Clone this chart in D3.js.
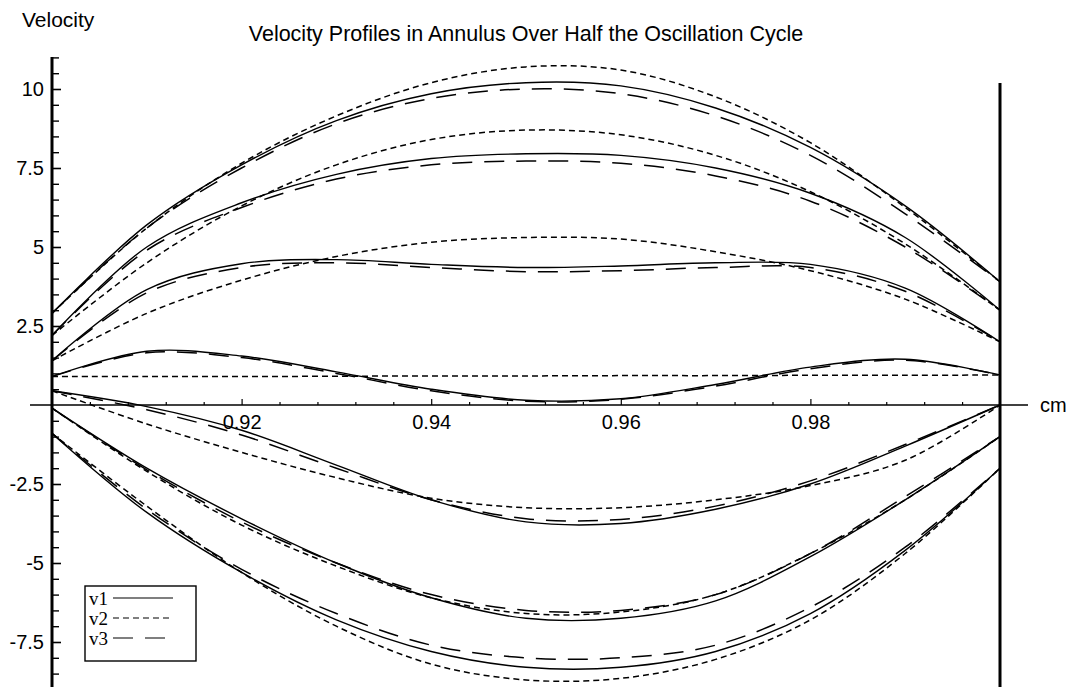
<!DOCTYPE html>
<html>
<head>
<meta charset="utf-8">
<script src="https://cdn.jsdelivr.net/npm/d3@7"></script>
<style>
  body { margin: 0; background: #fff; }
  text { font-family: "Liberation Sans", Arial, Helvetica, sans-serif; fill: #000; }
  .legend text { font-family: "Liberation Serif", "Times New Roman", serif; }
</style>
</head>
<body>
<div id="chart"></div>
<script>
// radio (cm) donde se leyeron los perfiles
const radius = [0.90, 0.91, 0.92, 0.93, 0.94, 0.95, 0.96, 0.97, 0.98, 0.99, 1.00];

// perfil 1 (el más alto)
const p1_v1 = [2.9, 5.7, 7.6, 9.0, 9.85, 10.2, 10.1, 9.4, 8.15, 6.3, 3.9];
const p1_v2 = [2.9, 5.6, 7.65, 9.15, 10.2, 10.7, 10.6, 9.75, 8.3, 6.25, 3.9];
const p1_v3 = [2.9, 5.6, 7.5, 8.9, 9.7, 10.0, 9.85, 9.15, 7.9, 6.05, 3.9];
// perfil 2
const p2_v1 = [2.2, 5.0, 6.4, 7.3, 7.8, 7.95, 7.9, 7.5, 6.7, 5.3, 3.0];
const p2_v2 = [2.2, 4.5, 6.3, 7.6, 8.4, 8.7, 8.55, 7.9, 6.75, 5.1, 3.0];
const p2_v3 = [2.2, 4.9, 6.25, 7.15, 7.6, 7.72, 7.65, 7.25, 6.45, 5.0, 3.0];
// perfil 3
const p3_v1 = [1.4, 3.65, 4.47, 4.6, 4.45, 4.35, 4.4, 4.5, 4.45, 3.7, 2.0];
const p3_v2 = [1.4, 2.9, 3.95, 4.7, 5.15, 5.3, 5.25, 4.85, 4.25, 3.35, 2.0];
const p3_v3 = [1.4, 3.55, 4.35, 4.5, 4.35, 4.22, 4.25, 4.35, 4.35, 3.6, 2.0];
// perfil 4 (ondulado)
const p4_v1 = [0.9, 1.7, 1.55, 1.05, 0.5, 0.15, 0.2, 0.65, 1.2, 1.45, 0.95];
const p4_v2 = [0.9, 0.9, 0.9, 0.91, 0.92, 0.92, 0.93, 0.93, 0.94, 0.94, 0.95];
const p4_v3 = [0.9, 1.65, 1.5, 1.0, 0.45, 0.12, 0.18, 0.6, 1.15, 1.42, 0.95];
// perfil 5
const p5_v1 = [0.45, -0.05, -0.8, -1.9, -3.0, -3.7, -3.75, -3.3, -2.5, -1.3, 0.0];
const p5_v2 = [0.45, -0.6, -1.5, -2.3, -2.95, -3.25, -3.25, -3.0, -2.55, -1.75, 0.0];
const p5_v3 = [0.45, -0.15, -0.95, -2.0, -3.0, -3.6, -3.62, -3.2, -2.4, -1.25, 0.0];
// perfil 6
const p6_v1 = [-0.1, -2.0, -3.6, -5.0, -6.1, -6.75, -6.75, -6.2, -4.8, -3.0, -1.0];
const p6_v2 = [-0.1, -2.1, -3.8, -5.1, -6.1, -6.6, -6.55, -6.0, -4.7, -3.0, -1.0];
const p6_v3 = [-0.1, -2.05, -3.7, -5.0, -6.0, -6.5, -6.5, -6.0, -4.7, -2.9, -1.0];
// perfil 7 (el más bajo)
const p7_v1 = [-0.9, -3.4, -5.3, -6.8, -7.8, -8.3, -8.3, -7.8, -6.6, -4.6, -2.0];
const p7_v2 = [-0.9, -3.2, -5.3, -7.0, -8.2, -8.7, -8.65, -8.05, -6.8, -4.7, -2.0];
const p7_v3 = [-0.9, -3.3, -5.2, -6.6, -7.6, -8.0, -8.0, -7.6, -6.4, -4.5, -2.0];

// etiquetas de los ejes
const yTickValues = [-7.5, -5, -2.5, 2.5, 5, 7.5, 10];
const xTickValues = [0.92, 0.94, 0.96, 0.98];
const seriesNames = ["v1", "v2", "v3"];

// estilos de línea por serie
const dashes = { v1: null, v2: "6,4", v3: "20,12" };

const width = 1072;
const height = 687;

const svg = d3.select("#chart")
  .append("svg")
  .attr("width", width)
  .attr("height", height);

const x = d3.scaleLinear().domain([0.9, 1.0]).range([52, 1000]);
const y = d3.scaleLinear().domain([0, 10]).range([405, 89]);

// títulos
svg.append("text")
  .attr("x", 22).attr("y", 27)
  .style("font-size", "21px")
  .text("Velocity");

svg.append("text")
  .attr("x", x(0.95)).attr("y", 41)
  .attr("text-anchor", "middle")
  .style("font-size", "21.5px")
  .text("Velocity Profiles in Annulus Over Half the Oscillation Cycle");

// eje X: línea fina que sobresale por ambos lados
svg.append("line")
  .attr("x1", 30).attr("x2", 1028)
  .attr("y1", y(0)).attr("y2", y(0))
  .attr("stroke", "#000").attr("stroke-width", 1.4);

const xMinor = d3.range(1, 25).map(i => 0.9 + i * 0.004)
  .filter(v => xTickValues.every(t => Math.abs(t - v) > 1e-6));

svg.append("g")
  .attr("transform", `translate(0, ${y(0)})`)
  .call(d3.axisBottom(x).tickValues(xMinor).tickSizeInner(-3).tickSizeOuter(0).tickFormat(""))
  .call(g => g.select(".domain").remove());

svg.append("g")
  .attr("transform", `translate(0, ${y(0)})`)
  .call(d3.axisBottom(x).tickValues(xTickValues).tickSizeInner(-6).tickSizeOuter(0)
    .tickPadding(10).tickFormat(d => String(d)))
  .call(g => g.select(".domain").remove())
  .call(g => g.selectAll("text").style("font-size", "20px").attr("fill", "#000"));

svg.selectAll(".tick line").attr("stroke", "#000").attr("stroke-width", 1.2);

svg.append("text")
  .attr("x", 1040).attr("y", y(0) + 7)
  .style("font-size", "20px")
  .text("cm");

// eje Y
const yMinor = d3.range(-18, 23).map(i => i * 0.5)
  .filter(v => yTickValues.indexOf(v) < 0 && v !== 0);

svg.append("g")
  .attr("transform", `translate(${x(0.9)}, 0)`)
  .call(d3.axisLeft(y).tickValues(yMinor).tickSizeInner(-7).tickSizeOuter(0).tickFormat(""))
  .call(g => g.select(".domain").remove())
  .call(g => g.selectAll("line").attr("stroke", "#000").attr("stroke-width", 1.4));

svg.append("g")
  .attr("transform", `translate(${x(0.9)}, 0)`)
  .call(d3.axisLeft(y).tickValues(yTickValues).tickSizeInner(-9).tickSizeOuter(0)
    .tickPadding(8).tickFormat(d => String(d)))
  .call(g => g.select(".domain").remove())
  .call(g => g.selectAll("line").attr("stroke", "#000").attr("stroke-width", 1.6))
  .call(g => g.selectAll("text").style("font-size", "20px").attr("fill", "#000"));

svg.append("line")
  .attr("x1", x(0.9)).attr("x2", x(0.9))
  .attr("y1", 57).attr("y2", height)
  .attr("stroke", "#000").attr("stroke-width", 3);

// pared exterior en r = 1.0
svg.append("line")
  .attr("x1", x(1.0)).attr("x2", x(1.0))
  .attr("y1", 83).attr("y2", height)
  .attr("stroke", "#000").attr("stroke-width", 3);

// curvas
const profiles = [
  [p1_v1, p1_v2, p1_v3],
  [p2_v1, p2_v2, p2_v3],
  [p3_v1, p3_v2, p3_v3],
  [p4_v1, p4_v2, p4_v3],
  [p5_v1, p5_v2, p5_v3],
  [p6_v1, p6_v2, p6_v3],
  [p7_v1, p7_v2, p7_v3]
];

const line = d3.line()
  .x((d, i) => x(radius[i]))
  .y(d => y(d))
  .curve(d3.curveCatmullRom.alpha(0.5));

profiles.forEach(p => {
  p.forEach((vals, k) => {
    svg.append("path")
      .datum(vals)
      .attr("d", line)
      .attr("fill", "none")
      .attr("stroke", "#000")
      .attr("stroke-width", k === 0 ? 1.4 : 1.5)
      .attr("stroke-dasharray", dashes[seriesNames[k]]);
  });
});

// leyenda
const legend = svg.append("g").attr("class", "legend");

legend.append("rect")
  .attr("x", 85).attr("y", 586)
  .attr("width", 111).attr("height", 75)
  .attr("fill", "#fff").attr("stroke", "#000").attr("stroke-width", 1.4);

seriesNames.forEach((name, i) => {
  legend.append("text")
    .attr("x", 89).attr("y", 605 + i * 20)
    .style("font-size", "19px")
    .text(name);
  legend.append("line")
    .attr("x1", 113).attr("x2", 173)
    .attr("y1", 598 + i * 20).attr("y2", 598 + i * 20)
    .attr("stroke", "#000")
    .attr("stroke-width", 1.2)
    .attr("stroke-dasharray", dashes[name]);
});
</script>
</body>
</html>
